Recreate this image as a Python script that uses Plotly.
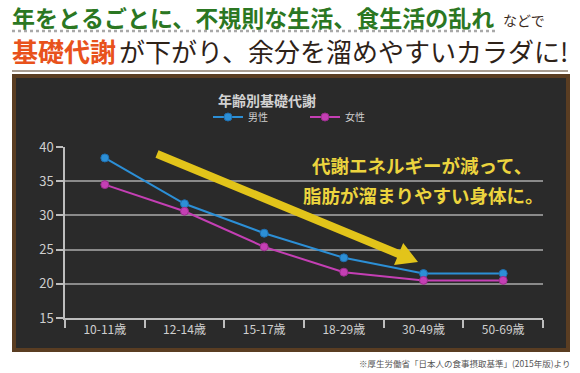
import math
import plotly.graph_objects as go

categories = ["10-11歳", "12-14歳", "15-17歳", "18-29歳", "30-49歳", "50-69歳"]
male = [38.4, 31.7, 27.4, 23.8, 21.5, 21.5]
female = [34.5, 30.6, 25.4, 21.7, 20.5, 20.5]
y_ticks = [15, 20, 25, 30, 35, 40]

W, H = 580, 373
L, R, T, B = 65, 37, 147, 55
PW, PH = W - L - R, H - T - B

def X(px):
    return (px - L) / PW

def Y(py):
    return (H - B - py) / PH

FONT = "Noto Sans CJK JP"

fig = go.Figure()
fig.add_trace(go.Scatter(x=categories, y=male, name="男性", mode="lines+markers",
                         line=dict(color="#2c8fd6", width=2),
                         marker=dict(size=8, color="#2c8fd6", line=dict(color="#1f6fb0", width=1))))
fig.add_trace(go.Scatter(x=categories, y=female, name="女性", mode="lines+markers",
                         line=dict(color="#c43fb4", width=2),
                         marker=dict(size=8, color="#c43fb4", line=dict(color="#9a2e8c", width=1))))

shapes = []
# board frame and surface
shapes.append(dict(type="rect", xref="paper", yref="paper", x0=X(12), x1=X(570), y0=Y(352), y1=Y(74),
                   fillcolor="#5a3d22", line=dict(width=0), layer="below"))
shapes.append(dict(type="rect", xref="paper", yref="paper", x0=X(16), x1=X(566), y0=Y(348), y1=Y(78),
                   fillcolor="#2a2a2a", line=dict(width=0), layer="below"))
# header underline and rule
shapes.append(dict(type="line", xref="paper", yref="paper", x0=X(12), x1=X(495), y0=Y(31), y1=Y(31),
                   line=dict(color="#a9a9a9", width=2.5, dash="dot")))
shapes.append(dict(type="line", xref="paper", yref="paper", x0=X(12), x1=X(568), y0=Y(71), y1=Y(71),
                   line=dict(color="#8b7b6b", width=1.5)))
# y axis extension below
shapes.append(dict(type="line", xref="paper", yref="paper", x0=X(65), x1=X(65), y0=Y(318), y1=Y(325),
                   line=dict(color="#bdbdbd", width=1.5)))

# yellow arrow polygon
sx, sy = 157, 154
tx, ty = 418, 262
dx, dy = tx - sx, ty - sy
ln = math.hypot(dx, dy)
ux, uy = dx / ln, dy / ln
nx, ny = -uy, ux
hw, hl, hh = 4.0, 21, 12
bx, by = tx - hl * ux, ty - hl * uy
pts = [(sx + hw * nx, sy + hw * ny), (bx + hw * nx, by + hw * ny), (bx + hh * nx, by + hh * ny),
       (tx, ty), (bx - hh * nx, by - hh * ny), (bx - hw * nx, by - hw * ny), (sx - hw * nx, sy - hw * ny)]
path = "M " + " L ".join(f"{X(p[0]):.5f},{Y(p[1]):.5f}" for p in pts) + " Z"
shapes.append(dict(type="path", xref="paper", yref="paper", path=path,
                   fillcolor="#e2c41a", line=dict(width=0), layer="above"))

annotations = [
    dict(text="<b>年をとるごとに、不規則な生活、食生活の乱れ</b>", x=X(10), y=Y(17), xanchor="left", yanchor="middle",
         font=dict(family=FONT, size=23, color="#2b7722")),
    dict(text="などで", x=X(501), y=Y(20), xanchor="left", yanchor="middle",
         font=dict(family=FONT, size=14, color="#3a2a1c")),
    dict(text="<b>基礎代謝</b>", x=X(10), y=Y(50), xanchor="left", yanchor="middle",
         font=dict(family=FONT, size=26, color="#e8521c")),
    dict(text="が下がり、余分を溜めやすいカラダに!", x=X(570), y=Y(50), xanchor="right", yanchor="middle",
         font=dict(family=FONT, size=26, color="#2e2218")),
    dict(text="<b>年齢別基礎代謝</b>", x=X(267), y=Y(100), xanchor="center", yanchor="middle",
         font=dict(family=FONT, size=14, color="#d2d2d2")),
    dict(text="<b>代謝エネルギーが減って、</b>", x=X(422), y=Y(165), xanchor="center", yanchor="middle",
         font=dict(family=FONT, size=18.5, color="#ecd43e")),
    dict(text="<b>脂肪が溜まりやすい身体に。</b>", x=X(423), y=Y(195), xanchor="center", yanchor="middle",
         font=dict(family=FONT, size=18.5, color="#ecd43e")),
    dict(text="※厚生労働省「日本人の食事摂取基準」(2015年版)より", x=X(572), y=Y(363), xanchor="right", yanchor="middle",
         font=dict(family=FONT, size=8.5, color="#555555")),
]
for a in annotations:
    a.update(xref="paper", yref="paper", showarrow=False)

fig.update_layout(
    width=W, height=H, autosize=False,
    margin=dict(l=L, r=R, t=T, b=B, pad=0),
    paper_bgcolor="#ffffff", plot_bgcolor="rgba(0,0,0,0)",
    font=dict(family=FONT, color="#cfcfcf"),
    shapes=shapes, annotations=annotations,
    showlegend=True,
    legend=dict(orientation="h", x=X(208), y=Y(117), xanchor="left", yanchor="middle",
                bgcolor="rgba(0,0,0,0)", font=dict(family=FONT, size=10, color="#cfcfcf"),
                entrywidth=52, entrywidthmode="pixels", itemwidth=30),
    xaxis=dict(type="category", range=[-0.5, 5.5], showgrid=False, showline=True, linecolor="#bdbdbd", linewidth=1.5,
               ticks="outside", tickson="boundaries", ticklen=8, tickcolor="#bdbdbd", tickwidth=1.5,
               tickfont=dict(family=FONT, size=12, color="#cfcfcf"), fixedrange=True, zeroline=False),
    yaxis=dict(range=[15, 40], tickvals=y_ticks, showgrid=True, gridcolor="#8a8a8a", gridwidth=1.5,
               showline=True, linecolor="#bdbdbd", linewidth=1.5, ticks="outside", ticklen=7,
               tickcolor="#bdbdbd", tickwidth=1.5, tickfont=dict(family=FONT, size=13, color="#cfcfcf"),
               zeroline=False, fixedrange=True),
)

fig.write_html("out.html", config={"displayModeBar": False},
               post_script="document.body.style.margin='0';")
